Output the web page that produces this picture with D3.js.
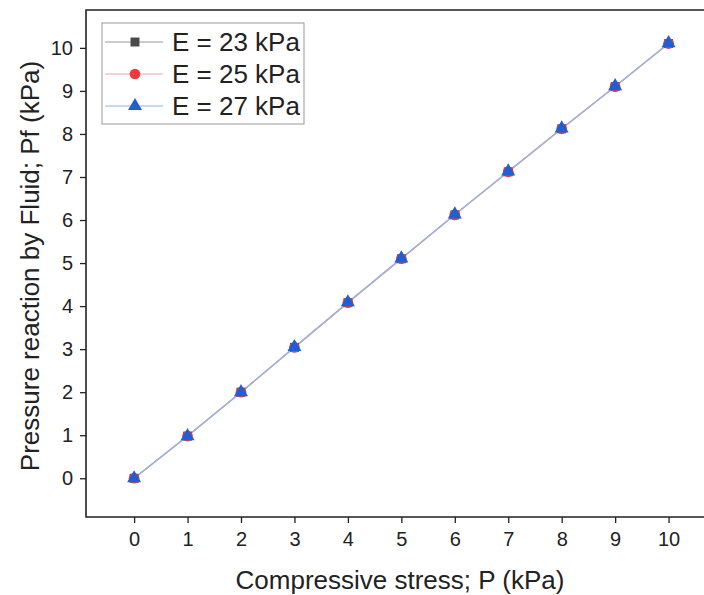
<!DOCTYPE html>
<html>
<head>
<meta charset="utf-8">
<script src="https://cdn.jsdelivr.net/npm/d3@7/dist/d3.min.js"></script>
<style>
  body { margin: 0; background: #fff; }
  text { font-family: Arial, "Liberation Sans", sans-serif; fill: #222; }
</style>
</head>
<body>
<div id="chart"></div>
<script>
// data
var stress = [0, 1, 2, 3, 4, 5, 6, 7, 8, 9, 10];
var pfE23 = [0, 0.98, 2.0, 3.04, 4.08, 5.1, 6.12, 7.12, 8.12, 9.1, 10.1];
var pfE25 = [0, 0.98, 2.0, 3.04, 4.08, 5.1, 6.12, 7.12, 8.12, 9.1, 10.1];
var pfE27 = [0, 0.98, 2.0, 3.05, 4.09, 5.11, 6.13, 7.13, 8.13, 9.11, 10.11];
var seriesNames = ["E = 23 kPa", "E = 25 kPa", "E = 27 kPa"];
var xTicks = [0, 1, 2, 3, 4, 5, 6, 7, 8, 9, 10];
var yTicks = [0, 1, 2, 3, 4, 5, 6, 7, 8, 9, 10];

var width = 704, height = 595;
var margin = {top: 10, right: -2, bottom: 78, left: 86};

var svg = d3.select("#chart").append("svg")
    .attr("width", width)
    .attr("height", height);

var x = d3.scaleLinear()
    .domain([-0.9, 10.7])
    .range([margin.left, width - margin.right]);

var y = d3.scaleLinear()
    .domain([-0.9, 10.88])
    .range([height - margin.bottom, margin.top]);

var series = [
  {name: seriesNames[0], values: pfE23, line: "#9a9a9a", fill: "#4a4a4a", shape: d3.symbolSquare, size: 80},
  {name: seriesNames[1], values: pfE25, line: "#f4a0a8", fill: "#ee3a3a", shape: d3.symbolCircle, size: 90},
  {name: seriesNames[2], values: pfE27, line: "#8fb4e6", fill: "#1f5fd6", shape: d3.symbolTriangle, size: 85}
];

// axes
var xAxis = svg.append("g")
    .attr("transform", "translate(0," + (height - margin.bottom) + ")")
    .call(d3.axisBottom(x).tickValues(xTicks).tickSize(6).tickPadding(9).tickSizeOuter(0));
var yAxis = svg.append("g")
    .attr("transform", "translate(" + margin.left + ",0)")
    .call(d3.axisLeft(y).tickValues(yTicks).tickSize(6).tickPadding(7).tickSizeOuter(0));

[xAxis, yAxis].forEach(function(a) {
  a.select(".domain").remove();
  a.selectAll(".tick line").attr("stroke", "#222").attr("stroke-width", 1.3);
  a.selectAll(".tick text").style("font-size", "20px").attr("fill", "#222");
});

// frame (left, top, bottom)
svg.append("path")
    .attr("d", "M" + (width + 2) + "," + y.range()[1] + "H" + x.range()[0] + "V" + y.range()[0] + "H" + (width + 2))
    .attr("fill", "none")
    .attr("stroke", "#222")
    .attr("stroke-width", 1.6);

// lines
var line = d3.line()
    .x(function(d, i) { return x(stress[i]); })
    .y(function(d) { return y(d); });

series.forEach(function(s) {
  svg.append("path")
      .datum(s.values)
      .attr("d", line)
      .attr("fill", "none")
      .attr("stroke", s.line)
      .attr("stroke-width", 1.2);
});

series.forEach(function(s) {
  svg.append("g").selectAll("path")
      .data(s.values)
      .enter().append("path")
      .attr("d", d3.symbol().type(s.shape).size(s.size))
      .attr("transform", function(d, i) { return "translate(" + x(stress[i]) + "," + y(d) + ")"; })
      .attr("fill", s.fill);
});

// legend
var legend = svg.append("g").attr("transform", "translate(102,23)");
legend.append("rect")
    .attr("width", 202).attr("height", 101)
    .attr("fill", "#fff").attr("stroke", "#999").attr("stroke-width", 1);
series.forEach(function(s, i) {
  var row = legend.append("g").attr("transform", "translate(0," + (19 + i * 32) + ")");
  row.append("line").attr("x1", 3).attr("x2", 61).attr("stroke", s.line).attr("stroke-width", 1.2);
  row.append("path")
      .attr("d", d3.symbol().type(s.shape).size(s.size))
      .attr("transform", "translate(33,0)")
      .attr("fill", s.fill);
  row.append("text")
      .attr("x", 70).attr("dy", "0.36em")
      .style("font-size", "26px")
      .text(s.name);
});

// axis titles
svg.append("text")
    .attr("x", 400).attr("y", 589)
    .attr("text-anchor", "middle")
    .style("font-size", "26px")
    .text("Compressive stress; P (kPa)");
svg.append("text")
    .attr("transform", "translate(39,266) rotate(-90)")
    .attr("text-anchor", "middle")
    .style("font-size", "26px")
    .text("Pressure reaction by Fluid; Pf (kPa)");
</script>
</body>
</html>
